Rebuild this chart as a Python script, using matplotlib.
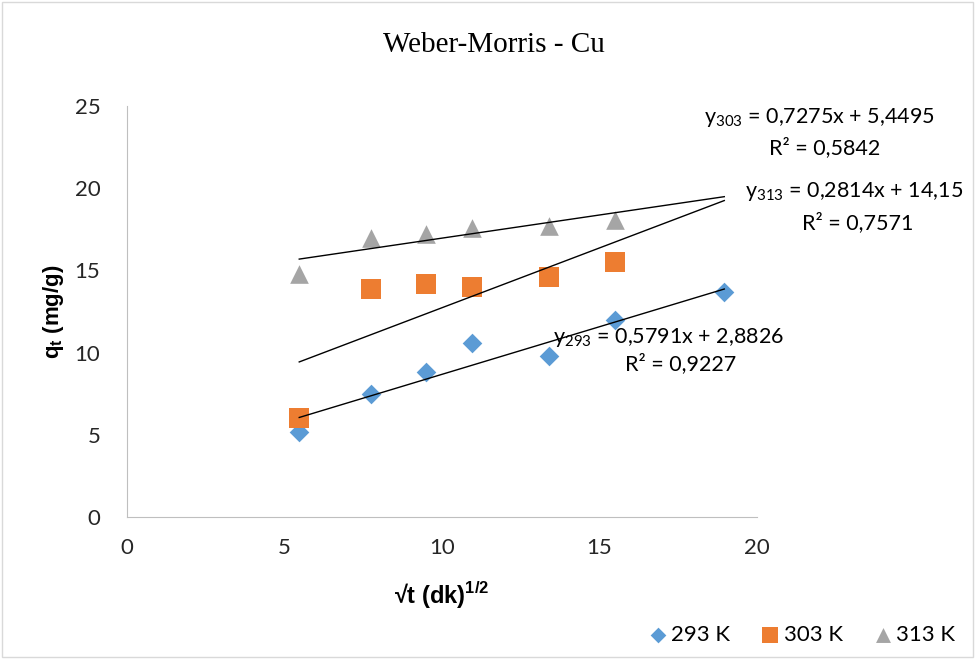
import numpy as np
import matplotlib
matplotlib.use("Agg")
import matplotlib.pyplot as plt
from matplotlib.patches import Rectangle

# sqrt(t) values, t in minutes
x_vals = [5.477, 7.746, 9.487, 10.954, 13.416, 15.492, 18.974]
q_293 = [5.2, 7.5, 8.8, 10.6, 9.8, 12.0, 13.7]
q_303 = [6.0, 13.9, 14.2, 14.0, 14.6, 15.5]
q_313 = [14.8, 17.0, 17.2, 17.6, 17.7, 18.1]
series_labels = ["293 K", "303 K", "313 K"]

# trendline coefficients (slope, intercept) as printed on the chart
fit_293 = (0.5791, 2.8826)
fit_303 = (0.7275, 5.4495)
fit_313 = (0.2814, 14.15)

plt.rcParams['mathtext.fontset'] = 'custom'
plt.rcParams['mathtext.rm'] = 'Lato'
plt.rcParams['mathtext.bf'] = 'Liberation Sans:bold'

fig = plt.figure(figsize=(9.75, 6.59), dpi=100)
ax = fig.add_axes([0.130, 0.2155, 0.646, 0.6235])
fig.patches.append(Rectangle((0.002, 0.003), 0.996, 0.994, transform=fig.transFigure,
                             fill=False, edgecolor='#D9D9D9', lw=1))

blue, orange, gray = '#5B9BD5', '#ED7D31', '#A5A5A5'
ax.scatter(x_vals, q_293, marker='D', s=100, color=blue, label=series_labels[0], zorder=3, linewidths=0)
ax.scatter(x_vals[:len(q_303)], q_303, marker='s', s=200, color=orange, label=series_labels[1], zorder=3, linewidths=0)
ax.scatter(x_vals[:len(q_313)], q_313, marker='^', s=180, color=gray, label=series_labels[2], zorder=3, linewidths=0)

xx = np.array([x_vals[0], x_vals[-1]])
for m, b in (fit_293, fit_303, fit_313):
    ax.plot(xx, m * xx + b, color='black', lw=1, zorder=4)

ax.set_xlim(0, 20)
ax.set_ylim(0, 25)
ax.set_xticks([0, 5, 10, 15, 20])
ax.set_yticks([0, 5, 10, 15, 20, 25])
ax.tick_params(axis='y', length=0, labelsize=16, pad=19)
ax.tick_params(axis='x', length=0, labelsize=16, pad=15)
for lab in ax.get_xticklabels() + ax.get_yticklabels():
    lab.set_family('Lato')
    lab.set_color('#262626')
for s in ('top', 'right'):
    ax.spines[s].set_visible(False)
for s in ('left', 'bottom'):
    ax.spines[s].set_color('#BFBFBF')

fig.text(0.507, 0.932, "Weber-Morris - Cu", family='Liberation Serif', fontsize=21,
         ha='center', va='center')
ax.set_ylabel(r"$\mathbf{q_t}$ (mg/g)", family=['Liberation Sans', 'DejaVu Sans'],
              fontweight='bold', fontsize=16, labelpad=6)
ax.set_xlabel(r"√t (dk)$^{\mathbf{1/2}}$", family=['Liberation Sans', 'DejaVu Sans'],
              fontweight='bold', fontsize=17, labelpad=16)

eq_kw = dict(family='Lato', fontsize=15.5, ha='center', va='center', zorder=5)
ax.text(17.2, 10.95, r"y$_{293}$ = 0,5791x + 2,8826", **eq_kw)
ax.text(17.6, 9.3, "R² = 0,9227", **eq_kw)
ax.text(22.0, 24.3, r"y$_{303}$ = 0,7275x + 5,4495", clip_on=False, **eq_kw)
ax.text(22.15, 22.45, "R² = 0,5842", clip_on=False, **eq_kw)
ax.text(23.1, 19.8, r"y$_{313}$ = 0,2814x + 14,15", clip_on=False, **eq_kw)
ax.text(23.2, 17.9, "R² = 0,7571", clip_on=False, **eq_kw)

leg = fig.legend(loc='center right', bbox_to_anchor=(1.0, 0.036), ncol=3, frameon=False,
                 prop={'family': 'Lato', 'size': 16}, handletextpad=0.1, columnspacing=1.3,
                 markerscale=0.8, handlelength=1.0)

fig.savefig("out.png", dpi=100)
